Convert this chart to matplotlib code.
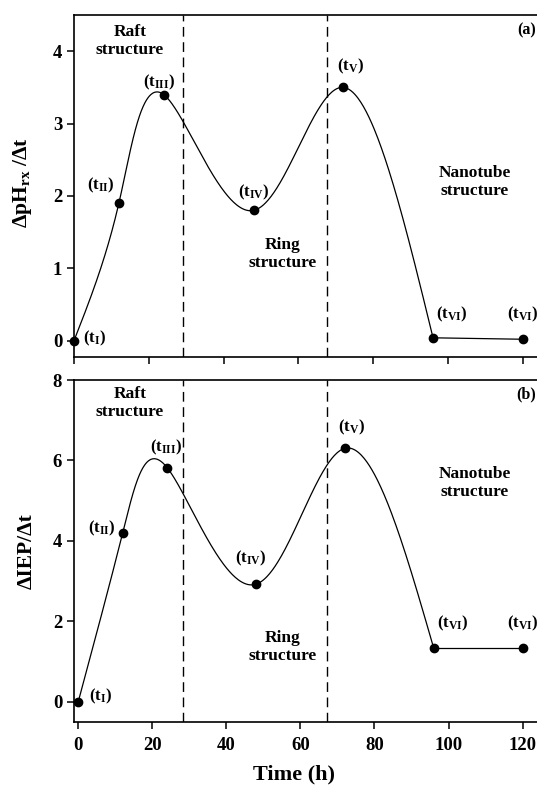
import numpy as np
import matplotlib
matplotlib.use('Agg')
from matplotlib import pyplot as plt

plt.rcParams['font.family'] = 'Liberation Serif'
plt.rcParams['font.weight'] = 'bold'
plt.rcParams['mathtext.fontset'] = 'custom'
plt.rcParams['mathtext.rm'] = 'Liberation Serif:bold'
plt.rcParams['mathtext.it'] = 'Liberation Serif:bold'
plt.rcParams['mathtext.bf'] = 'Liberation Serif:bold'

# data
time_h = [0, 12, 24, 48, 72, 96, 120]
ph_rate = [0.0, 1.9, 3.4, 1.8, 3.5, 0.04, 0.02]
iep_rate = [0.0, 4.2, 5.82, 2.92, 6.3, 1.33, 1.33]
point_names = ['I', 'II', 'III', 'IV', 'V', 'VI', 'VI']
stage_names = ['Raft\nstructure', 'Ring\nstructure', 'Nanotube\nstructure']
x_ticks = [0, 20, 40, 60, 80, 100, 120]


def natural_spline(y, s):
    # natural cubic spline on unit spaced knots (point index)
    y = np.asarray(y, float)
    n = len(y)
    A = np.zeros((n, n))
    b = np.zeros(n)
    A[0, 0] = A[-1, -1] = 1
    for i in range(1, n - 1):
        A[i, i - 1:i + 2] = [1, 4, 1]
        b[i] = 6 * (y[i + 1] - 2 * y[i] + y[i - 1])
    M = np.linalg.solve(A, b)
    k = np.clip(np.floor(s).astype(int), 0, n - 2)
    u = s - k
    return (M[k] * (1 - u)**3 / 6 + M[k + 1] * u**3 / 6
            + (y[k] - M[k] / 6) * (1 - u) + (y[k + 1] - M[k + 1] / 6) * u)


fig = plt.figure(figsize=(5.37, 7.94), dpi=100)
ax1 = fig.add_axes([0.1378, 0.5504, 0.8622, 0.4307])
ax2 = fig.add_axes([0.1378, 0.0911, 0.8622, 0.4303])

panels = [
    dict(ax=ax1, y=ph_rate, xlim=(0, 123.8), ylim=(-0.225, 4.5), yticks=[0, 1, 2, 3, 4],
         vlines=[29.2, 67.7], ylabel='ΔpH$_{\\mathrm{rx}}$ /Δt', tag='(a)', tagpos=(121, 4.29),
         lab=[(2.4, 0.03, 'left'), (7.2, 2.15, 'center'), (22.7, 3.57, 'center'), (48.1, 2.05, 'center'),
              (73.8, 3.79, 'center'), (101, 0.37, 'center'), (120, 0.37, 'center')],
         stages=[(15, 4.14), (55.9, 1.2), (107.2, 2.19)], labpos=(-0.086, 0.51)),
    dict(ax=ax2, y=iep_rate, xlim=(-1.16, 123.9), ylim=(-0.5, 8), yticks=[0, 2, 4, 6, 8],
         vlines=[28.4, 67.2], ylabel='ΔIEP/Δt', tag='(b)', tagpos=(121, 7.65),
         lab=[(2.9, 0.12, 'left'), (6.4, 4.3, 'center'), (23.6, 6.33, 'center'), (46.5, 3.55, 'center'),
              (73.7, 6.83, 'center'), (101, 1.95, 'center'), (120, 1.95, 'center')],
         stages=[(14, 7.43), (55.3, 1.36), (107.1, 5.44)], labpos=(-0.08, 0.5)),
]

for p in panels:
    ax = p['ax']
    s = np.linspace(0, 5, 500)
    ax.plot(natural_spline(time_h[:6], s), natural_spline(p['y'][:6], s), color='black', lw=0.9)
    ax.plot(time_h[5:], p['y'][5:], color='black', lw=0.9)
    ax.plot(time_h, p['y'], 'o', color='black', ms=6, clip_on=False, zorder=5)
    for xv in p['vlines']:
        ax.axvline(xv, color='black', lw=1.0, ls=(0, (7, 4)))
    for (lx, ly, ha), name in zip(p['lab'], point_names):
        ax.text(lx, ly, '(t$_{\\mathrm{%s}}$)' % name, ha=ha, va='center', fontsize=12)
    for (sx, sy), st in zip(p['stages'], stage_names):
        ax.text(sx, sy, st, ha='center', va='center', fontsize=12.5, linespacing=1.15)
    ax.text(p['tagpos'][0], p['tagpos'][1], p['tag'], ha='center', va='center', fontsize=11.5)
    ax.set_xlim(p['xlim'])
    ax.set_ylim(p['ylim'])
    ax.set_xticks(x_ticks)
    ax.set_yticks(p['yticks'])
    ax.spines['right'].set_visible(False)
    for sp in ['left', 'bottom', 'top']:
        ax.spines[sp].set_linewidth(1.2)
    ax.tick_params(direction='out', length=5, width=1.1, labelsize=13.5)
    ax.set_ylabel(p['ylabel'], fontsize=15.5, fontweight='bold')
    ax.yaxis.set_label_coords(*p['labpos'])

ax1.tick_params(axis='x', labelbottom=False)
ax2.tick_params(axis='x', pad=6)
ax2.set_xlabel('Time (h)', fontsize=16, fontweight='bold')
ax2.xaxis.set_label_coords(0.475, -0.125)

fig.savefig('out.png', dpi=100)
